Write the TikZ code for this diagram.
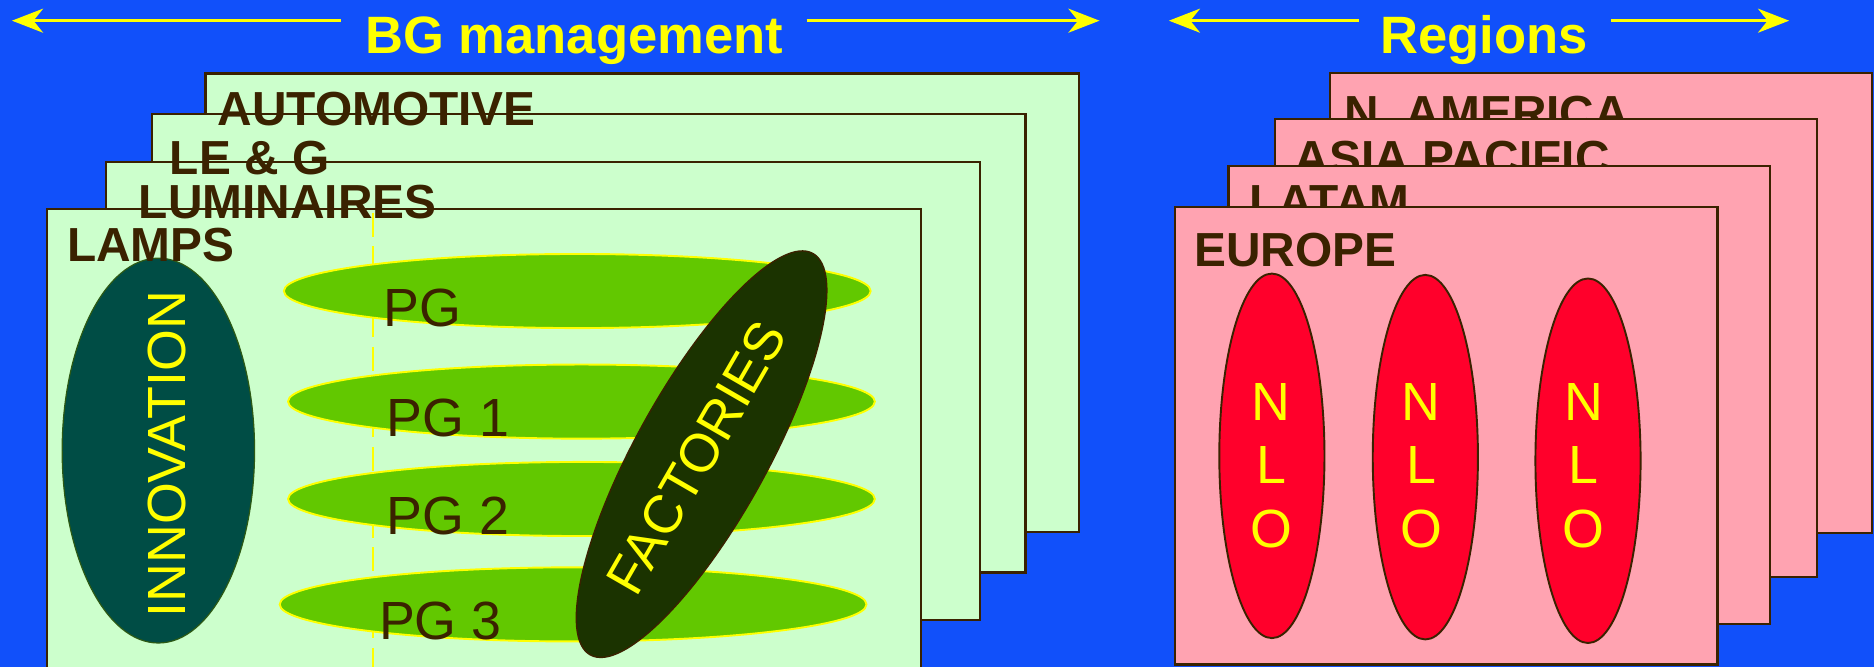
\documentclass[tikz,border=0pt]{standalone}
\usepackage{fontspec}
\setmainfont{Liberation Sans}
\usetikzlibrary{shapes.geometric,arrows.meta}

\definecolor{bgblue}{RGB}{17,80,250}
\definecolor{boxgreen}{RGB}{204,255,204}
\definecolor{boxpink}{RGB}{255,163,177}
\definecolor{ink}{RGB}{58,34,0}
\definecolor{pggreen}{RGB}{98,200,0}
\definecolor{innoteal}{RGB}{0,77,69}
\definecolor{innoedge}{RGB}{45,90,20}
\definecolor{factgreen}{RGB}{27,51,0}
\definecolor{nlored}{RGB}{255,0,43}
\definecolor{hiyellow}{RGB}{255,255,0}

\tikzset{
  sheet/.style={draw=ink, line width=1.8pt},
  bgsheet/.style={sheet, fill=boxgreen},
  regsheet/.style={sheet, fill=boxpink},
  sheetlabel/.style={anchor=base west, inner sep=0pt, text=ink,
    font=\fontsize{40}{40}\selectfont\bfseries},
  titletext/.style={anchor=base, inner sep=0pt, text=hiyellow,
    font=\fontsize{44}{44}\selectfont\bfseries},
  titlearrow/.style={draw=hiyellow, line width=3pt,
    -{Stealth[length=26pt,width=20pt,inset=8pt]}},
  pg/.style={ellipse, fill=pggreen, draw=hiyellow, line width=1.6pt,
    minimum width=491pt, minimum height=62pt, inner sep=0pt},
  pglabel/.style={anchor=base west, inner sep=0pt, text=ink,
    font=\fontsize{45}{45}\selectfont},
  nlo/.style={ellipse, fill=nlored, draw=ink, line width=1.6pt,
    minimum width=88pt, minimum height=305pt, inner sep=0pt},
  nlotext/.style={anchor=north, inner sep=0pt, text=hiyellow, align=center,
    font=\fontsize{45}{53}\selectfont},
  bigword/.style={inner sep=0pt, text=hiyellow, font=\fontsize{45}{45}\selectfont},
}

\begin{document}
\begin{tikzpicture}[x=1pt,y=-1pt]
  \useasboundingbox (0,0) rectangle (1568,558);
  \clip (0,0) rectangle (1568,558);
  \fill[bgblue] (0,0) rectangle (1568,558);

  % ---- headings with double arrows
  \node[titletext] (bgtitle) at (480.5,44.6) {BG management};
  \coordinate (bgA) at (285,17.3);
  \coordinate (bgAtip) at (10,17.3);
  \coordinate (bgB) at (675,17.3);
  \coordinate (bgBtip) at (920,17.3);
  \draw[titlearrow] (bgA) -- (bgAtip);
  \draw[titlearrow] (bgB) -- (bgBtip);

  \node[titletext] (regtitle) at (1241.5,44.6) {Regions};
  \coordinate (rgA) at (1137,17.3);
  \coordinate (rgAtip) at (978,17.3);
  \coordinate (rgB) at (1348,17.3);
  \coordinate (rgBtip) at (1497,17.3);
  \draw[titlearrow] (rgA) -- (rgAtip);
  \draw[titlearrow] (rgB) -- (rgBtip);

  % ---- stack of business group sheets
  \path[bgsheet] (172,61.5) rectangle (903,445);
  \path[bgsheet] (127,95.6) rectangle (858,479);
  \path[bgsheet] (88.6,135.3) rectangle (820,519);
  \path[bgsheet] (39.3,174.9) rectangle (770.5,600);

  % divider between innovation and product groups
  \draw[hiyellow, line width=2pt, dash pattern=on 20pt off 8pt] (312,178) -- (312,560);

  % innovation column
  \node[ellipse, fill=innoteal, draw=innoedge, line width=1pt,
        minimum width=161pt, minimum height=322pt, inner sep=0pt] (innov) at (132.5,377) {};
  \node[bigword, rotate=90] (innovtext) at (139.5,380) {INNOVATION};

  % sheet titles sit on top of the stacked edges
  \node[sheetlabel] (automotive) at (182,105) {AUTOMOTIVE};
  \node[sheetlabel] (leg) at (142,145.6) {LE \& G};
  \node[sheetlabel] (luminaires) at (116,183) {LUMINAIRES};
  \node[sheetlabel] (lamps) at (56,218.7) {LAMPS};

  % product groups
  \node[pg] (pg0) at (483,243.5) {};
  \node[pg] (pg1) at (486.5,336) {};
  \node[pg] (pg2) at (486.5,417.5) {};
  \node[pg] (pg3) at (479.5,505.7) {};
  \node[pglabel] (pg0t) at (321,273.5) {PG};
  \node[pglabel] (pg1t) at (323.5,365.6) {PG 1};
  \node[pglabel] (pg2t) at (323.5,447) {PG 2};
  \node[pglabel] (pg3t) at (317,534.7) {PG 3};

  % factories across the product groups
  \node[ellipse, fill=factgreen, draw=ink, line width=1.2pt,
        minimum width=384pt, minimum height=110pt, inner sep=0pt, rotate=61] (fact) at (587,380) {};
  \node[bigword, rotate=60] (facttext) at (583,383) {FACTORIES};

  % ---- stack of region sheets (each title partly hidden by the next sheet)
  \path[regsheet] (1112.8,61.4) rectangle (1566,445.7);
  \node[sheetlabel] (namerica) at (1125,108.5) {N. AMERICA};
  \path[regsheet] (1066.5,99.8) rectangle (1520,483);
  \node[sheetlabel] (asiapac) at (1083,146) {ASIA PACIFIC};
  \path[regsheet] (1027.9,138.9) rectangle (1481,522);
  \node[sheetlabel] (latam) at (1045,183) {LATAM};
  \path[regsheet] (983.4,172.9) rectangle (1437,556);
  \node[sheetlabel] (europe) at (999,223) {EUROPE};

  % national lighting organisations
  \node[nlo] (nlo1) at (1064.2,381.4) {};
  \node[nlo] (nlo2) at (1192.6,382.5) {};
  \node[nlo] (nlo3) at (1328.7,385.5) {};
  \node[nlotext] (nlo1t) at (1063.5,320.7) {N\\L\\O};
  \node[nlotext] (nlo2t) at (1189,320.7) {N\\L\\O};
  \node[nlotext] (nlo3t) at (1325,320.7) {N\\L\\O};
\end{tikzpicture}
\end{document}
